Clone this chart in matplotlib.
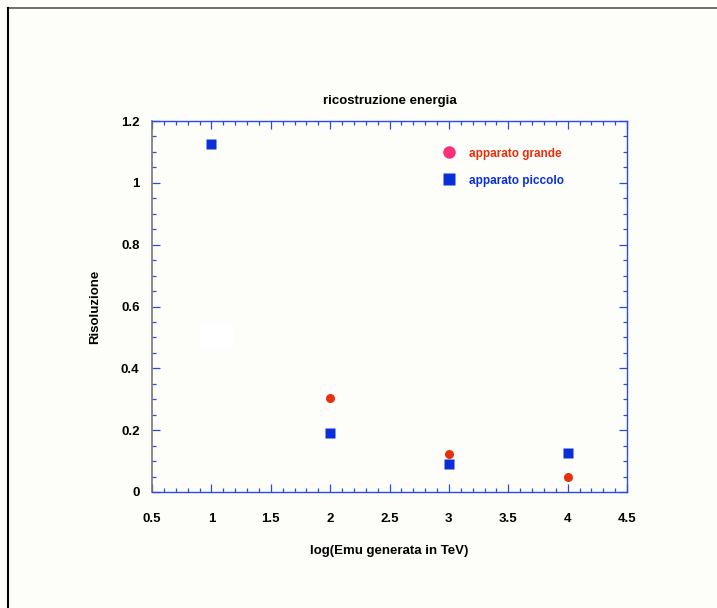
import matplotlib
matplotlib.use('Agg')
from matplotlib import pyplot as plt
from matplotlib.lines import Line2D
from matplotlib.patches import Rectangle
from matplotlib.ticker import MultipleLocator

# data
x_grande = [2, 3, 4]
y_grande = [0.305, 0.123, 0.049]
x_piccolo = [1, 2, 3, 4]
y_piccolo = [1.125, 0.191, 0.091, 0.126]

plt.rcParams['font.family'] = ['Liberation Sans', 'DejaVu Sans']

fig = plt.figure(figsize=(7.17, 6.08), dpi=100, facecolor='#fdfdf9')
ax = fig.add_axes([152/717, 1 - 492/608, 475/717, 371/608], facecolor='#fdfdf9')

ax.plot(x_grande, y_grande, 'o', color='#e8300a', ms=6.5, mec='none',
        label='apparato grande')
ax.plot(x_piccolo, y_piccolo, 's', color='#0a2fd8', ms=7, mec='none',
        label='apparato piccolo')

ax.set_xlim(0.5, 4.5)
ax.set_ylim(0, 1.2)
ax.xaxis.set_minor_locator(MultipleLocator(0.1))
ax.yaxis.set_minor_locator(MultipleLocator(0.05))
ax.set_xticks([0.5, 1, 1.5, 2, 2.5, 3, 3.5, 4, 4.5])
ax.set_xticklabels(['0.5', '1', '1.5', '2', '2.5', '3', '3.5', '4', '4.5'])
ax.set_yticks([0, 0.2, 0.4, 0.6, 0.8, 1, 1.2])
ax.set_yticklabels(['0', '0.2', '0.4', '0.6', '0.8', '1', '1.2'])

for side in ['top', 'bottom', 'right']:
    ax.spines[side].set_color('#2a4de0')
    ax.spines[side].set_linewidth(1.0)
ax.spines['left'].set_color('#777777')
ax.spines['left'].set_linewidth(1.2)

ax.tick_params(which='both', direction='in', top=True, right=True,
               colors='#2a4de0', labelcolor='black', labelsize=9.5, width=0.9)
ax.tick_params(which='major', length=6)
ax.tick_params(which='minor', length=3)
ax.tick_params(axis='x', which='major', pad=15)
ax.tick_params(axis='y', which='major', pad=9)
for lab in ax.get_xticklabels() + ax.get_yticklabels():
    lab.set_fontweight('bold')

ax.set_title('ricostruzione energia', fontsize=9.5, fontweight='bold', pad=12)
ax.set_xlabel('log(Emu generata in TeV)', fontsize=9.5, fontweight='bold', labelpad=14.5)
ax.set_ylabel('Risoluzione', fontsize=9.5, fontweight='bold', labelpad=14)

leg = ax.legend(loc='upper right', bbox_to_anchor=(0.889, 0.957), frameon=False,
                fontsize=8.5, handletextpad=1.15, labelspacing=1.27,
                handlelength=1.0)
leg.get_texts()[0].set_color('#e8300a')
leg.get_texts()[1].set_color('#0a2fd8')
leg.legend_handles[0].set_color('#ff2e7a')
leg.legend_handles[0].set_markersize(9)
leg.legend_handles[1].set_markersize(8)
for t in leg.get_texts():
    t.set_fontweight('bold')

# small white patch inside the plot
fig.patches.append(Rectangle((200/717, 1 - 348/608), 32/717, 25/608,
                             transform=fig.transFigure, color='white', zorder=1))

# page frame lines
fig.add_artist(Line2D([8/717, 1], [1 - 8/608, 1 - 8/608], color='#555555', lw=1.2))
fig.add_artist(Line2D([8/717, 8/717], [0, 1 - 8/608], color='black', lw=1.5))

fig.savefig('out.png', dpi=100, facecolor=fig.get_facecolor())
